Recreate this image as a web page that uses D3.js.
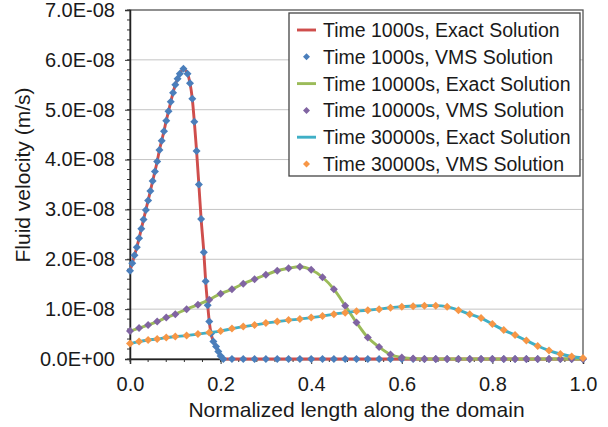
<!DOCTYPE html>
<html><head><meta charset="utf-8">
<script src="https://cdn.jsdelivr.net/npm/d3@7"></script>
<style>body{margin:0;background:#fff}svg{display:block}text{font-family:"Liberation Sans",Arial,sans-serif;fill:#1a1a1a}</style>
</head><body>
<svg id="c" width="608" height="427"></svg>
<script>
// ---- data (velocities in units of 1E-08 m/s) ----
const x1000 = [0,0.005,0.01,0.015,0.02,0.025,0.03,0.035,0.04,0.045,0.05,0.055,0.06,0.065,0.07,0.075,0.08,0.085,0.09,0.095,0.1,0.105,0.11,0.118,0.127,0.1325,0.1375,0.142,0.147,0.152,0.157,0.163,0.167,0.1715,0.175,0.179,0.184,0.19,0.195,0.2,0.206,
  0.225,0.25,0.275,0.3,0.325,0.35,0.375,0.4,0.425,0.45,0.475,0.5,0.525,0.55,0.575,0.6,0.625,0.65,0.675,0.7,0.725,0.75,0.775,0.8,0.825,0.85,0.875,0.9,0.925,0.95,0.975,1.0];
const v1000 = [1.77,1.92,2.08,2.24,2.42,2.61,2.80,2.99,3.18,3.37,3.57,3.76,3.96,4.19,4.38,4.57,4.78,4.97,5.16,5.34,5.50,5.62,5.72,5.82,5.72,5.53,5.22,4.76,4.17,3.50,2.81,2.14,1.56,1.08,0.75,0.51,0.35,0.25,0.15,0.06,0.0,
  0,0,0,0,0,0,0,0,0,0,0,0,0,0,0,0,0,0,0,0,0,0,0,0,0,0,0,0,0,0,0,0];
const xCoarse = [0,0.02,0.04,0.06,0.08,0.1,0.125,0.15,0.175,0.2,0.225,0.25,0.275,0.3,0.325,0.35,0.375,0.4,0.425,0.45,0.475,0.5,0.525,0.55,0.575,0.6,0.625,0.65,0.675,0.7,0.725,0.75,0.775,0.8,0.825,0.85,0.875,0.9,0.925,0.95,0.975,1.0];
const v10000 = [0.56,0.62,0.68,0.75,0.83,0.90,1.00,1.09,1.19,1.31,1.40,1.51,1.60,1.69,1.77,1.82,1.85,1.79,1.64,1.40,1.07,0.73,0.43,0.24,0.09,0.03,0.01,0,0,0,0,0,0,0,0,0,0,0,0,0,0,0];
const v30000 = [0.31,0.35,0.38,0.40,0.43,0.45,0.47,0.50,0.53,0.56,0.61,0.65,0.68,0.72,0.75,0.78,0.80,0.83,0.86,0.90,0.93,0.96,0.98,1.00,1.03,1.05,1.06,1.07,1.07,1.05,0.98,0.90,0.82,0.70,0.58,0.48,0.37,0.26,0.17,0.10,0.05,0.02];
const xTickValues = [0,0.2,0.4,0.6,0.8,1.0];
const xTickLabels = ["0.0","0.2","0.4","0.6","0.8","1.0"];
const yTickValues = [0,1,2,3,4,5,6,7];
const yTickLabels = ["0.0E+00","1.0E-08","2.0E-08","3.0E-08","4.0E-08","5.0E-08","6.0E-08","7.0E-08"];
const seriesNames = ["Time 1000s, Exact Solution","Time 1000s, VMS Solution","Time 10000s, Exact Solution","Time 10000s, VMS Solution","Time 30000s, Exact Solution","Time 30000s, VMS Solution"];

const colors = {red:"#CF4E4C", blue:"#4A7EBB", green:"#9BBB59", purple:"#8064A2", cyan:"#3FAFC6", orange:"#F79646"};
const series = [
  {name:seriesNames[0], type:"line", xs:x1000, vs:v1000, color:colors.red},
  {name:seriesNames[1], type:"marker", xs:x1000, vs:v1000, color:colors.blue},
  {name:seriesNames[2], type:"line", xs:xCoarse, vs:v10000, color:colors.green},
  {name:seriesNames[3], type:"marker", xs:xCoarse, vs:v10000, color:colors.purple},
  {name:seriesNames[4], type:"line", xs:xCoarse, vs:v30000, color:colors.cyan},
  {name:seriesNames[5], type:"marker", xs:xCoarse, vs:v30000, color:colors.orange}
];

const svg = d3.select("#c");
const L=130, R=583, T=10, B=359;
const x = d3.scaleLinear().domain([0,1]).range([L,R]);
const y = d3.scaleLinear().domain([0,7]).range([B,T]);

// gridlines
svg.append("g").selectAll("line").data(yTickValues.slice(1,-1)).join("line")
  .attr("x1",L).attr("x2",R).attr("y1",d=>y(d)).attr("y2",d=>y(d))
  .attr("stroke","#C4C4C4").attr("stroke-width",1);

// plot border
svg.append("rect").attr("x",L).attr("y",T).attr("width",R-L).attr("height",B-T)
  .attr("fill","none").attr("stroke","#555").attr("stroke-width",1.3);

// minor ticks
const yMinor = d3.range(0,7.0001,0.2);
svg.append("g").selectAll("line").data(yMinor).join("line")
  .attr("x1",L-3).attr("x2",L).attr("y1",d=>y(d)).attr("y2",d=>y(d)).attr("stroke","#333");
const xMinor = d3.range(0,1.0001,0.04);
svg.append("g").selectAll("line").data(xMinor).join("line")
  .attr("y1",B).attr("y2",B+3).attr("x1",d=>x(d)).attr("x2",d=>x(d)).attr("stroke","#333");

// axes
const yAxis = d3.axisLeft(y).tickValues(yTickValues).tickFormat((d,i)=>yTickLabels[i]).tickSizeOuter(0).tickSize(5).tickPadding(10);
const gy = svg.append("g").attr("transform",`translate(${L},0)`).call(yAxis);
const xAxis = d3.axisBottom(x).tickValues(xTickValues).tickFormat((d,i)=>xTickLabels[i]).tickSizeOuter(0).tickSize(5).tickPadding(13);
const gx = svg.append("g").attr("transform",`translate(0,${B})`).call(xAxis);
[gx,gy].forEach(g=>{
  g.select(".domain").attr("stroke","#222").attr("stroke-width",1.5);
  g.selectAll(".tick line").attr("stroke","#333");
  g.selectAll(".tick text").attr("font-size",20).attr("fill","#1a1a1a").attr("font-family","'Liberation Sans',Arial,sans-serif");
});

// diamond marker path
const diamond = r => `M0,${-r}L${r},0L0,${r}L${-r},0Z`;

const line = d3.line().x(d=>x(d[0])).y(d=>y(d[1])).curve(d3.curveMonotoneX);
const plot = svg.append("g");
series.forEach(s=>{
  const pts = s.xs.map((xv,i)=>[xv,s.vs[i]]);
  if(s.type==="line"){
    plot.append("path").datum(pts).attr("d",line).attr("fill","none")
      .attr("stroke",s.color).attr("stroke-width",2.9);
  } else {
    plot.append("g").selectAll("path").data(pts).join("path")
      .attr("transform",d=>`translate(${x(d[0])},${y(d[1])})`)
      .attr("d",diamond(4)).attr("fill",s.color);
  }
});

// axis titles
svg.append("text").attr("x",(L+R)/2).attr("y",417).attr("text-anchor","middle")
  .attr("font-size",21).text("Normalized length along the domain");
svg.append("text").attr("transform",`translate(30,175) rotate(-90)`).attr("text-anchor","middle")
  .attr("font-size",21).text("Fluid velocity (m/s)");

// legend
const lg = svg.append("g");
lg.append("rect").attr("x",289).attr("y",13).attr("width",291).attr("height",163)
  .attr("fill","#fff").attr("stroke","#444").attr("stroke-width",1.3);
series.forEach((s,i)=>{
  const yy = 30 + i*26.8;
  if(s.type==="line"){
    lg.append("line").attr("x1",297).attr("x2",316).attr("y1",yy).attr("y2",yy)
      .attr("stroke",s.color).attr("stroke-width",2.9);
  } else {
    lg.append("path").attr("transform",`translate(306.5,${yy})`).attr("d",diamond(3.5)).attr("fill",s.color);
  }
  lg.append("text").attr("x",323).attr("y",yy).attr("dy","0.36em").attr("font-size",19.5).text(s.name);
});
</script>
</body></html>
